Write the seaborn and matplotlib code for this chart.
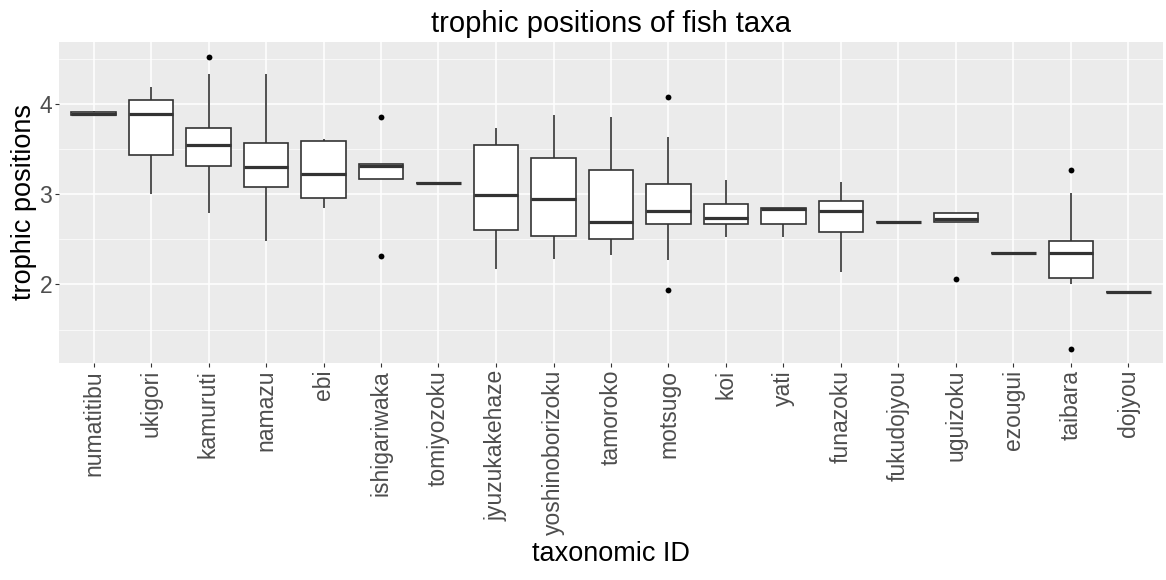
import numpy as np
import pandas as pd
import matplotlib
matplotlib.use("Agg")
import matplotlib.pyplot as plt
import seaborn as sns

taxa = ["numatitibu", "ukigori", "kamuruti", "namazu", "ebi", "ishigariwaka",
        "tomiyozoku", "jyuzukakehaze", "yoshinoborizoku", "tamoroko", "motsugo",
        "koi", "yati", "funazoku", "fukudojyou", "uguizoku", "ezougui",
        "taibara", "dojyou"]

# five-number summaries
whisker_lo = [3.87, 3.00, 2.79, 2.48, 2.85, 3.17, 3.12, 2.17, 2.28, 2.33, 2.27,
              2.52, 2.53, 2.14, 2.69, 2.69, 2.35, 2.00, 1.92]
q1 = [3.875, 3.43, 3.31, 3.08, 2.96, 3.17, 3.12, 2.60, 2.54, 2.50, 2.67,
      2.67, 2.67, 2.58, 2.69, 2.69, 2.35, 2.07, 1.92]
median = [3.89, 3.89, 3.54, 3.30, 3.22, 3.31, 3.12, 2.99, 2.95, 2.69, 2.81,
          2.74, 2.83, 2.81, 2.69, 2.73, 2.35, 2.35, 1.92]
q3 = [3.91, 4.04, 3.73, 3.57, 3.59, 3.33, 3.12, 3.54, 3.40, 3.27, 3.11,
      2.89, 2.85, 2.92, 2.69, 2.79, 2.35, 2.48, 1.92]
whisker_hi = [3.92, 4.19, 4.33, 4.33, 3.61, 3.33, 3.12, 3.73, 3.88, 3.85, 3.63,
              3.16, 2.85, 3.14, 2.69, 2.79, 2.35, 3.01, 1.92]

outlier_taxa = ["kamuruti", "ishigariwaka", "ishigariwaka", "motsugo", "motsugo",
                "uguizoku", "taibara", "taibara"]
outlier_vals = [4.52, 3.85, 2.32, 4.08, 1.94, 2.06, 3.27, 1.28]

rows = []
for i, t in enumerate(taxa):
    for v in (whisker_lo[i], q1[i], median[i], q3[i], whisker_hi[i]):
        rows.append({"taxon": t, "tp": v})
df = pd.DataFrame(rows)
out_df = pd.DataFrame({"taxon": outlier_taxa, "tp": outlier_vals})

sns.set_theme(style="darkgrid", rc={
    "axes.facecolor": "#EBEBEB",
    "grid.color": "white",
    "axes.edgecolor": "#EBEBEB",
})
plt.rcParams["font.family"] = ["Liberation Sans", "DejaVu Sans"]

fig = plt.figure(figsize=(11.66, 5.8), dpi=100)
ax = fig.add_axes([59 / 1166, 1 - 363 / 580, (1163 - 59) / 1166, (363 - 42) / 580])

sns.boxplot(
    data=df, x="taxon", y="tp", order=taxa, whis=(0, 100), showfliers=False,
    showcaps=False, color="white", linecolor="#333333", linewidth=1.2, width=0.77,
    medianprops={"linewidth": 2.3, "color": "#333333"}, ax=ax,
)
sns.stripplot(data=out_df, x="taxon", y="tp", order=taxa, jitter=False,
              color="black", size=4.2, ax=ax)

ax.set_xlim(-0.6, len(taxa) - 0.4)
ax.set_ylim(1.13, 4.685)
ax.set_yticks([2, 3, 4])
ax.set_yticks([1.5, 2.5, 3.5, 4.5], minor=True)
ax.grid(True, which="major", color="white", linewidth=1.1)
ax.grid(True, which="minor", axis="y", color="white", linewidth=0.5)
ax.set_axisbelow(True)
for s in ax.spines.values():
    s.set_visible(False)

ax.tick_params(axis="both", which="major", length=3, width=0.8, color="#333333",
               labelcolor="#4D4D4D", labelsize=16.5, pad=2, bottom=True, left=True)
ax.tick_params(axis="y", which="minor", length=0)
plt.setp(ax.get_xticklabels(), rotation=90, va="top", ha="center")

ax.set_xlabel("taxonomic ID", fontsize=19.5, color="black", labelpad=4)
ax.set_ylabel("trophic positions", fontsize=19.5, color="black", labelpad=2)
ax.set_title("trophic positions of fish taxa", fontsize=21, color="black", pad=7)

fig.savefig("out.png", dpi=100)
